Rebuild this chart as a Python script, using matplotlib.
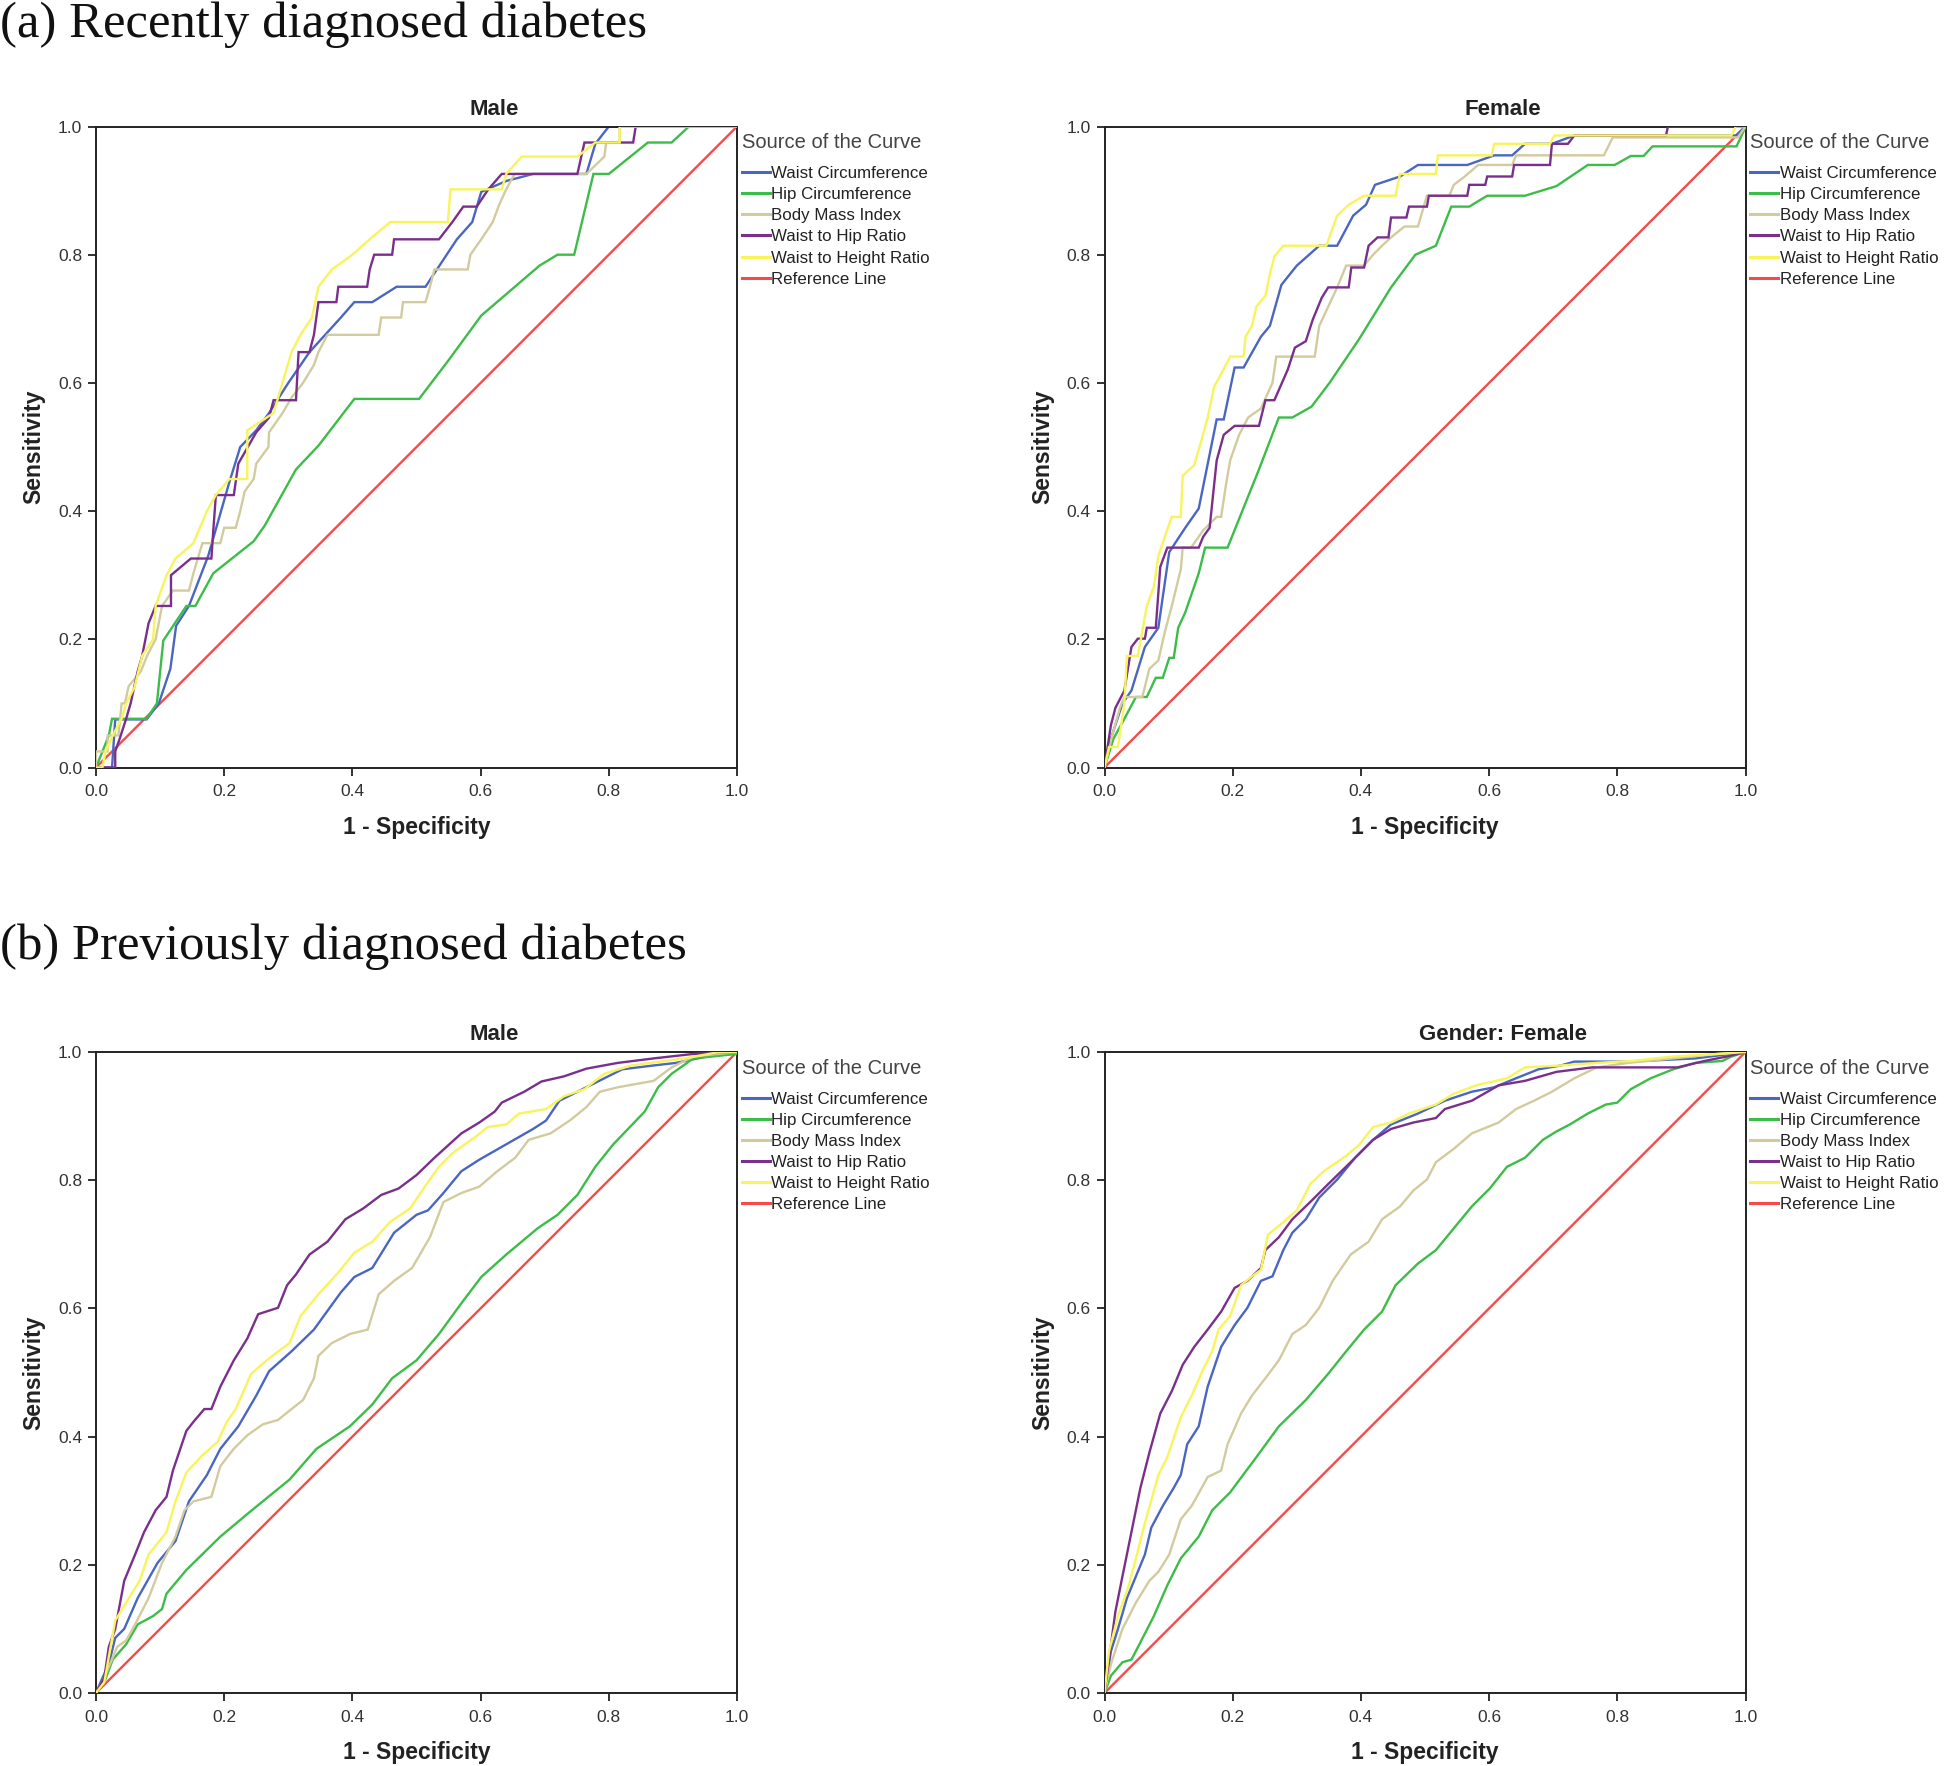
import matplotlib
matplotlib.use("Agg")
import matplotlib.pyplot as plt
from matplotlib import font_manager

# ---------------- data (1 - specificity, sensitivity) ----------------
series_names = ["Waist Circumference", "Hip Circumference", "Body Mass Index",
                "Waist to Hip Ratio", "Waist to Height Ratio", "Reference Line"]
series_colors = ["#4a66c0", "#3cbc48", "#d2cb9e", "#7a2f8c", "#f7f45c", "#f64a4a"]

panel_titles = ["Male", "Female", "Male", "Gender: Female"]
section_titles = ["(a) Recently diagnosed diabetes", "(b) Previously diagnosed diabetes"]
tick_values = [0.0, 0.2, 0.4, 0.6, 0.8, 1.0]
tick_labels = ["0.0", "0.2", "0.4", "0.6", "0.8", "1.0"]
reference_line = [(0.0, 0.0), (1.0, 1.0)]

# (a) Recently diagnosed, Male
a_male_wc = [(0, 0), (0.025, 0), (0.03, 0.075), (0.079, 0.075), (0.098, 0.1), (0.116, 0.154),
             (0.125, 0.221), (0.145, 0.252), (0.175, 0.33), (0.208, 0.445), (0.225, 0.5),
             (0.25, 0.526), (0.27, 0.553), (0.3, 0.6), (0.333, 0.648), (0.382, 0.702),
             (0.403, 0.726), (0.431, 0.726), (0.469, 0.75), (0.514, 0.75), (0.563, 0.824),
             (0.587, 0.851), (0.601, 0.898), (0.64, 0.915), (0.682, 0.926), (0.765, 0.926),
             (0.779, 0.973), (0.8, 1.0), (1.0, 1.0)]
a_male_hc = [(0, 0), (0.02, 0.05), (0.025, 0.076), (0.079, 0.076), (0.095, 0.1), (0.105, 0.198),
             (0.141, 0.252), (0.155, 0.252), (0.183, 0.303), (0.246, 0.353), (0.263, 0.377),
             (0.312, 0.465), (0.347, 0.502), (0.403, 0.575), (0.504, 0.575), (0.549, 0.634),
             (0.601, 0.705), (0.692, 0.783), (0.72, 0.8), (0.746, 0.8), (0.776, 0.926),
             (0.8, 0.926), (0.861, 0.975), (0.898, 0.975), (0.925, 1.0), (1.0, 1.0)]
a_male_bmi = [(0, 0), (0, 0.025), (0.018, 0.025), (0.018, 0.05), (0.035, 0.05), (0.04, 0.1),
              (0.045, 0.1), (0.051, 0.127), (0.07, 0.15), (0.08, 0.175), (0.093, 0.2),
              (0.103, 0.252), (0.12, 0.276), (0.145, 0.276), (0.152, 0.303), (0.166, 0.35),
              (0.194, 0.35), (0.2, 0.374), (0.218, 0.374), (0.225, 0.4), (0.232, 0.431),
              (0.246, 0.45), (0.25, 0.474), (0.269, 0.5), (0.27, 0.523), (0.291, 0.553),
              (0.305, 0.577), (0.323, 0.6), (0.34, 0.628), (0.347, 0.648), (0.361, 0.675),
              (0.441, 0.675), (0.445, 0.702), (0.476, 0.702), (0.479, 0.726), (0.514, 0.726),
              (0.521, 0.75), (0.528, 0.777), (0.58, 0.777), (0.584, 0.8), (0.601, 0.824),
              (0.619, 0.851), (0.629, 0.878), (0.64, 0.902), (0.653, 0.926), (0.765, 0.926),
              (0.793, 0.953), (0.796, 0.975), (0.817, 0.975), (0.817, 1.0), (1.0, 1.0)]
a_male_whr = [(0, 0), (0.03, 0), (0.03, 0.025), (0.037, 0.045), (0.047, 0.076), (0.054, 0.1),
              (0.065, 0.15), (0.072, 0.174), (0.082, 0.225), (0.093, 0.252), (0.117, 0.252),
              (0.117, 0.3), (0.148, 0.326), (0.18, 0.326), (0.183, 0.37), (0.187, 0.425),
              (0.215, 0.425), (0.222, 0.474), (0.25, 0.523), (0.27, 0.546), (0.277, 0.573),
              (0.312, 0.573), (0.316, 0.648), (0.333, 0.648), (0.34, 0.675), (0.347, 0.726),
              (0.375, 0.726), (0.378, 0.75), (0.423, 0.75), (0.427, 0.777), (0.434, 0.8),
              (0.462, 0.8), (0.465, 0.824), (0.535, 0.824), (0.556, 0.851), (0.573, 0.875),
              (0.594, 0.875), (0.612, 0.902), (0.633, 0.926), (0.751, 0.926), (0.762, 0.975),
              (0.838, 0.975), (0.842, 1.0), (1.0, 1.0)]
a_male_whtr = [(0, 0), (0.01, 0), (0.015, 0.025), (0.026, 0.05), (0.04, 0.076), (0.047, 0.1),
               (0.06, 0.125), (0.072, 0.174), (0.089, 0.2), (0.093, 0.252), (0.11, 0.3),
               (0.124, 0.326), (0.152, 0.35), (0.162, 0.374), (0.173, 0.4), (0.187, 0.425),
               (0.208, 0.45), (0.236, 0.45), (0.236, 0.526), (0.277, 0.553), (0.305, 0.648),
               (0.319, 0.675), (0.337, 0.702), (0.347, 0.75), (0.368, 0.777), (0.4, 0.8),
               (0.427, 0.824), (0.459, 0.851), (0.549, 0.851), (0.553, 0.902), (0.633, 0.902),
               (0.64, 0.926), (0.664, 0.953), (0.751, 0.953), (0.779, 0.975), (0.817, 0.975),
               (0.817, 1.0), (1.0, 1.0)]

# (a) Recently diagnosed, Female
a_female_wc = [(0, 0), (0.01, 0.045), (0.028, 0.1), (0.042, 0.12), (0.063, 0.188), (0.084, 0.218),
               (0.101, 0.336), (0.126, 0.374), (0.147, 0.404), (0.175, 0.543), (0.186, 0.543),
               (0.203, 0.624), (0.217, 0.624), (0.244, 0.672), (0.258, 0.689), (0.276, 0.753),
               (0.3, 0.783), (0.335, 0.814), (0.363, 0.814), (0.388, 0.861), (0.408, 0.878),
               (0.422, 0.909), (0.461, 0.922), (0.489, 0.94), (0.566, 0.94), (0.608, 0.955),
               (0.636, 0.955), (0.656, 0.973), (0.698, 0.973), (0.733, 0.986), (0.985, 0.986),
               (1.0, 1.0)]
a_female_hc = [(0, 0), (0.014, 0.045), (0.031, 0.076), (0.049, 0.11), (0.066, 0.11), (0.08, 0.14),
               (0.091, 0.14), (0.101, 0.171), (0.108, 0.171), (0.115, 0.218), (0.126, 0.242),
               (0.147, 0.303), (0.157, 0.343), (0.192, 0.343), (0.241, 0.465), (0.272, 0.546),
               (0.293, 0.546), (0.323, 0.563), (0.351, 0.6), (0.397, 0.668), (0.447, 0.749),
               (0.485, 0.8), (0.517, 0.814), (0.541, 0.875), (0.569, 0.875), (0.597, 0.892),
               (0.656, 0.892), (0.705, 0.907), (0.754, 0.94), (0.796, 0.94), (0.821, 0.954),
               (0.841, 0.954), (0.855, 0.969), (0.986, 0.969), (0.999, 0.997), (1.0, 1.0)]
a_female_bmi = [(0, 0), (0.012, 0.05), (0.024, 0.093), (0.031, 0.11), (0.059, 0.11), (0.07, 0.154),
                (0.084, 0.167), (0.094, 0.211), (0.105, 0.252), (0.119, 0.309), (0.122, 0.343),
                (0.135, 0.343), (0.154, 0.37), (0.175, 0.391), (0.182, 0.391), (0.189, 0.438),
                (0.196, 0.479), (0.21, 0.519), (0.224, 0.546), (0.244, 0.56), (0.262, 0.6),
                (0.268, 0.641), (0.328, 0.641), (0.335, 0.689), (0.363, 0.749), (0.377, 0.783),
                (0.405, 0.783), (0.419, 0.8), (0.433, 0.814), (0.447, 0.827), (0.468, 0.844),
                (0.489, 0.844), (0.503, 0.892), (0.538, 0.892), (0.545, 0.909), (0.562, 0.922),
                (0.583, 0.94), (0.636, 0.94), (0.642, 0.955), (0.779, 0.955), (0.793, 0.983),
                (0.988, 0.983), (1.0, 1.0)]
a_female_whr = [(0, 0), (0.01, 0.066), (0.017, 0.093), (0.031, 0.12), (0.042, 0.188), (0.052, 0.201),
                (0.063, 0.201), (0.066, 0.218), (0.08, 0.218), (0.087, 0.313), (0.098, 0.343),
                (0.147, 0.343), (0.154, 0.36), (0.164, 0.374), (0.175, 0.479), (0.186, 0.519),
                (0.203, 0.533), (0.241, 0.533), (0.251, 0.573), (0.265, 0.573), (0.286, 0.621),
                (0.297, 0.655), (0.314, 0.665), (0.325, 0.699), (0.339, 0.733), (0.349, 0.749),
                (0.381, 0.749), (0.385, 0.78), (0.405, 0.78), (0.412, 0.814), (0.426, 0.827),
                (0.443, 0.827), (0.447, 0.858), (0.471, 0.858), (0.475, 0.875), (0.503, 0.875),
                (0.506, 0.892), (0.566, 0.892), (0.569, 0.909), (0.594, 0.909), (0.597, 0.922),
                (0.636, 0.922), (0.639, 0.94), (0.695, 0.94), (0.698, 0.973), (0.723, 0.973),
                (0.733, 0.986), (0.876, 0.986), (0.879, 1.0), (1.0, 1.0)]
a_female_whtr = [(0, 0), (0.007, 0.032), (0.021, 0.032), (0.031, 0.1), (0.035, 0.174), (0.052, 0.174),
                 (0.066, 0.252), (0.077, 0.282), (0.084, 0.33), (0.094, 0.36), (0.105, 0.391),
                 (0.119, 0.391), (0.122, 0.455), (0.14, 0.472), (0.15, 0.506), (0.161, 0.546),
                 (0.171, 0.594), (0.182, 0.614), (0.196, 0.641), (0.217, 0.641), (0.22, 0.672),
                 (0.23, 0.689), (0.237, 0.719), (0.251, 0.736), (0.258, 0.77), (0.265, 0.797),
                 (0.279, 0.814), (0.346, 0.814), (0.363, 0.861), (0.381, 0.878), (0.405, 0.892),
                 (0.454, 0.892), (0.461, 0.926), (0.517, 0.926), (0.52, 0.955), (0.604, 0.955),
                 (0.608, 0.973), (0.695, 0.973), (0.702, 0.986), (0.978, 0.986), (0.985, 1.0),
                 (1.0, 1.0)]

# (b) Previously diagnosed, Male
b_male_wc = [(0, 0), (0.009, 0.021), (0.02, 0.045), (0.03, 0.086), (0.044, 0.1), (0.065, 0.148),
             (0.096, 0.203), (0.124, 0.237), (0.145, 0.299), (0.173, 0.34), (0.194, 0.381),
             (0.222, 0.416), (0.25, 0.464), (0.27, 0.502), (0.305, 0.533), (0.34, 0.567),
             (0.382, 0.625), (0.403, 0.649), (0.431, 0.663), (0.465, 0.718), (0.5, 0.746),
             (0.518, 0.753), (0.542, 0.78), (0.57, 0.814), (0.598, 0.832), (0.64, 0.856),
             (0.682, 0.88), (0.702, 0.893), (0.723, 0.924), (0.751, 0.938), (0.793, 0.959),
             (0.821, 0.973), (0.87, 0.979), (0.905, 0.983), (0.953, 0.993), (1.0, 1.0)]
b_male_hc = [(0, 0), (0.013, 0.017), (0.026, 0.052), (0.047, 0.076), (0.065, 0.107), (0.089, 0.12),
             (0.103, 0.131), (0.11, 0.155), (0.141, 0.192), (0.194, 0.244), (0.243, 0.285),
             (0.302, 0.333), (0.344, 0.381), (0.396, 0.416), (0.431, 0.45), (0.462, 0.491),
             (0.5, 0.519), (0.535, 0.56), (0.57, 0.608), (0.601, 0.649), (0.64, 0.684),
             (0.689, 0.725), (0.72, 0.746), (0.751, 0.777), (0.779, 0.821), (0.807, 0.856),
             (0.856, 0.907), (0.877, 0.945), (0.898, 0.966), (0.932, 0.99), (1.0, 0.997),
             (1.0, 1.0)]
b_male_bmi = [(0, 0), (0.013, 0.024), (0.033, 0.072), (0.047, 0.082), (0.061, 0.107), (0.082, 0.148),
              (0.103, 0.203), (0.124, 0.244), (0.138, 0.285), (0.152, 0.299), (0.18, 0.306),
              (0.194, 0.354), (0.215, 0.381), (0.236, 0.402), (0.26, 0.419), (0.284, 0.426),
              (0.305, 0.443), (0.323, 0.457), (0.34, 0.491), (0.347, 0.526), (0.368, 0.546),
              (0.396, 0.56), (0.424, 0.567), (0.441, 0.622), (0.465, 0.643), (0.493, 0.663),
              (0.521, 0.711), (0.542, 0.766), (0.57, 0.78), (0.598, 0.79), (0.626, 0.814),
              (0.654, 0.835), (0.675, 0.863), (0.709, 0.873), (0.739, 0.893), (0.765, 0.914),
              (0.786, 0.938), (0.814, 0.945), (0.87, 0.955), (0.898, 0.976), (0.932, 0.993),
              (1.0, 1.0)]
b_male_whr = [(0, 0), (0.013, 0.024), (0.02, 0.072), (0.03, 0.1), (0.044, 0.175), (0.061, 0.216),
              (0.075, 0.251), (0.093, 0.285), (0.11, 0.306), (0.12, 0.347), (0.141, 0.409),
              (0.152, 0.423), (0.169, 0.443), (0.18, 0.443), (0.194, 0.478), (0.215, 0.519),
              (0.236, 0.553), (0.253, 0.591), (0.284, 0.601), (0.298, 0.636), (0.312, 0.653),
              (0.333, 0.684), (0.361, 0.704), (0.389, 0.739), (0.417, 0.756), (0.445, 0.777),
              (0.472, 0.787), (0.5, 0.808), (0.528, 0.835), (0.57, 0.873), (0.598, 0.89),
              (0.622, 0.907), (0.633, 0.921), (0.668, 0.938), (0.695, 0.954), (0.73, 0.962),
              (0.765, 0.974), (0.814, 0.983), (0.87, 0.99), (0.932, 0.997), (1.0, 1.0)]
b_male_whtr = [(0, 0), (0.013, 0.017), (0.03, 0.113), (0.047, 0.141), (0.068, 0.175), (0.082, 0.216),
               (0.11, 0.251), (0.124, 0.299), (0.141, 0.344), (0.166, 0.371), (0.19, 0.392),
               (0.204, 0.423), (0.218, 0.443), (0.242, 0.498), (0.27, 0.522), (0.302, 0.546),
               (0.319, 0.588), (0.347, 0.622), (0.378, 0.656), (0.403, 0.687), (0.431, 0.704),
               (0.459, 0.735), (0.49, 0.756), (0.511, 0.787), (0.535, 0.821), (0.556, 0.842),
               (0.594, 0.869), (0.611, 0.883), (0.64, 0.887), (0.66, 0.904), (0.702, 0.911),
               (0.73, 0.931), (0.762, 0.942), (0.793, 0.966), (0.835, 0.979), (0.918, 0.99),
               (0.967, 0.999), (1.0, 1.0)]

# (b) Previously diagnosed, Female
b_female_wc = [(0, 0), (0.01, 0.065), (0.021, 0.1), (0.035, 0.148), (0.049, 0.182), (0.063, 0.216),
               (0.073, 0.258), (0.091, 0.292), (0.108, 0.32), (0.119, 0.34), (0.129, 0.388),
               (0.147, 0.416), (0.161, 0.478), (0.182, 0.54), (0.203, 0.574), (0.223, 0.601),
               (0.244, 0.643), (0.262, 0.65), (0.279, 0.691), (0.293, 0.718), (0.314, 0.739),
               (0.335, 0.773), (0.363, 0.801), (0.391, 0.835), (0.419, 0.863), (0.447, 0.887),
               (0.489, 0.904), (0.531, 0.924), (0.573, 0.938), (0.608, 0.945), (0.642, 0.959),
               (0.677, 0.973), (0.712, 0.979), (0.733, 0.985), (0.817, 0.985), (0.922, 0.99),
               (1.0, 1.0)]
b_female_hc = [(0, 0), (0.01, 0.027), (0.028, 0.048), (0.042, 0.052), (0.056, 0.079), (0.077, 0.12),
               (0.098, 0.168), (0.119, 0.21), (0.147, 0.244), (0.168, 0.285), (0.196, 0.313),
               (0.237, 0.368), (0.272, 0.416), (0.314, 0.457), (0.349, 0.498), (0.377, 0.533),
               (0.405, 0.567), (0.433, 0.595), (0.454, 0.636), (0.489, 0.67), (0.517, 0.691),
               (0.545, 0.725), (0.573, 0.759), (0.601, 0.787), (0.628, 0.821), (0.656, 0.835),
               (0.684, 0.863), (0.705, 0.876), (0.726, 0.887), (0.754, 0.904), (0.782, 0.918),
               (0.8, 0.921), (0.821, 0.942), (0.852, 0.959), (0.887, 0.973), (0.922, 0.983),
               (0.964, 0.986), (0.978, 0.993), (1.0, 1.0)]
b_female_bmi = [(0, 0), (0.01, 0.045), (0.028, 0.1), (0.049, 0.141), (0.07, 0.175), (0.084, 0.189),
                (0.101, 0.216), (0.119, 0.271), (0.136, 0.292), (0.161, 0.337), (0.182, 0.347),
                (0.192, 0.388), (0.213, 0.436), (0.23, 0.464), (0.251, 0.491), (0.272, 0.519),
                (0.293, 0.56), (0.314, 0.574), (0.335, 0.601), (0.356, 0.643), (0.384, 0.684),
                (0.412, 0.704), (0.433, 0.739), (0.461, 0.759), (0.482, 0.784), (0.503, 0.801),
                (0.517, 0.828), (0.545, 0.849), (0.573, 0.873), (0.615, 0.89), (0.642, 0.911),
                (0.67, 0.924), (0.698, 0.938), (0.733, 0.959), (0.768, 0.976), (0.817, 0.983),
                (0.887, 0.99), (0.957, 0.997), (1.0, 1.0)]
b_female_whr = [(0, 0), (0.007, 0.052), (0.017, 0.127), (0.028, 0.182), (0.042, 0.251), (0.056, 0.32),
                (0.07, 0.375), (0.087, 0.436), (0.105, 0.471), (0.122, 0.512), (0.14, 0.54),
                (0.161, 0.567), (0.182, 0.595), (0.203, 0.632), (0.223, 0.643), (0.244, 0.663),
                (0.251, 0.691), (0.272, 0.711), (0.293, 0.739), (0.321, 0.766), (0.349, 0.794),
                (0.384, 0.828), (0.419, 0.863), (0.447, 0.88), (0.482, 0.89), (0.517, 0.897),
                (0.531, 0.911), (0.573, 0.924), (0.615, 0.948), (0.656, 0.955), (0.705, 0.969),
                (0.761, 0.976), (0.894, 0.976), (0.936, 0.986), (0.971, 0.993), (1.0, 1.0)]
b_female_whtr = [(0, 0), (0.007, 0.065), (0.021, 0.12), (0.038, 0.168), (0.049, 0.21), (0.063, 0.265),
                 (0.084, 0.34), (0.098, 0.368), (0.119, 0.43), (0.136, 0.464), (0.154, 0.505),
                 (0.168, 0.533), (0.178, 0.567), (0.196, 0.588), (0.213, 0.636), (0.23, 0.65),
                 (0.244, 0.66), (0.255, 0.715), (0.276, 0.732), (0.3, 0.753), (0.321, 0.794),
                 (0.342, 0.814), (0.377, 0.838), (0.398, 0.856), (0.419, 0.883), (0.447, 0.89),
                 (0.475, 0.904), (0.517, 0.918), (0.545, 0.935), (0.58, 0.948), (0.628, 0.959),
                 (0.656, 0.976), (0.712, 0.979), (0.768, 0.983), (0.824, 0.986), (0.887, 0.993),
                 (0.957, 0.997), (1.0, 1.0)]

panels = [
    [a_male_wc, a_male_hc, a_male_bmi, a_male_whr, a_male_whtr, reference_line],
    [a_female_wc, a_female_hc, a_female_bmi, a_female_whr, a_female_whtr, reference_line],
    [b_male_wc, b_male_hc, b_male_bmi, b_male_whr, b_male_whtr, reference_line],
    [b_female_wc, b_female_hc, b_female_bmi, b_female_whr, b_female_whtr, reference_line],
]

# ---------------- fonts ----------------
avail = {f.name for f in font_manager.fontManager.ttflist}
narrow = "Liberation Sans Narrow" if "Liberation Sans Narrow" in avail else "Liberation Sans"
sans = "Liberation Sans"
serif = "Liberation Serif"

# ---------------- figure ----------------
W, H = 1946, 1766
fig = plt.figure(figsize=(W / 100, H / 100), dpi=100)

ax_left = [96, 1104.5]
ax_top = [126.5, 1052]
ax_size = 641

for i, series in enumerate(panels):
    row, col = divmod(i, 2)
    l = ax_left[col] / W
    b = 1 - (ax_top[row] + ax_size) / H
    ax = fig.add_axes([l, b, ax_size / W, ax_size / H])
    order = [5, 1, 2, 0, 3, 4]
    lines = {}
    for k in order:
        xs = [p[0] for p in series[k]]
        ys = [p[1] for p in series[k]]
        ln, = ax.plot(xs, ys, color=series_colors[k], lw=1.7, label=series_names[k],
                      solid_joinstyle="miter", zorder=2 + (k if k < 5 else -1))
        lines[k] = ln
    ax.set_xlim(0, 1)
    ax.set_ylim(0, 1)
    ax.set_xticks(tick_values)
    ax.set_xticklabels(tick_labels)
    ax.set_yticks(tick_values)
    ax.set_yticklabels(tick_labels)
    for sp in ax.spines.values():
        sp.set_linewidth(1.4)
        sp.set_color("#222222")
    ax.tick_params(direction="out", length=6, width=1.3, colors="#222222",
                   labelsize=12.5, pad=4)
    ax.tick_params(axis="x", pad=6)
    for lab in ax.get_xticklabels() + ax.get_yticklabels():
        lab.set_fontfamily(narrow)
        lab.set_color("#333333")
    ax.set_xlabel("1 - Specificity", fontsize=16.5, fontweight="bold", family=narrow,
                  color="#222222", labelpad=12)
    ax.set_ylabel("Sensitivity", fontsize=16.5, fontweight="bold", family=narrow,
                  color="#222222", labelpad=9)
    ax.text(0.621, 1.027, panel_titles[i], transform=ax.transAxes, ha="center", va="center",
            fontsize=16, fontweight="bold", family=narrow, color="#222222")
    leg = ax.legend(handles=[lines[k] for k in range(6)], loc="upper left",
                    bbox_to_anchor=(0.989, 1.008), frameon=False, title="Source of the Curve",
                    handlelength=1.65, handletextpad=0.1, labelspacing=0.36,
                    borderaxespad=0.3, prop={"family": sans, "size": 12.2})
    leg.get_title().set_fontsize(14.5)
    leg.get_title().set_family(sans)
    leg.get_title().set_color("#444444")
    leg._legend_box.align = "left"
    leg._legend_box.sep = 10
    for t in leg.get_texts():
        t.set_color("#222222")
    for h in leg.legend_handles:
        h.set_linewidth(2.2)

fig.text(0.0, 1 - 1 / H, section_titles[0], ha="left", va="top", fontsize=36.5,
         family=serif, color="#111111")
fig.text(0.0, 1 - 924 / H, section_titles[1], ha="left", va="top", fontsize=36.5,
         family=serif, color="#111111")

fig.savefig("out.png", dpi=100, facecolor="white")
